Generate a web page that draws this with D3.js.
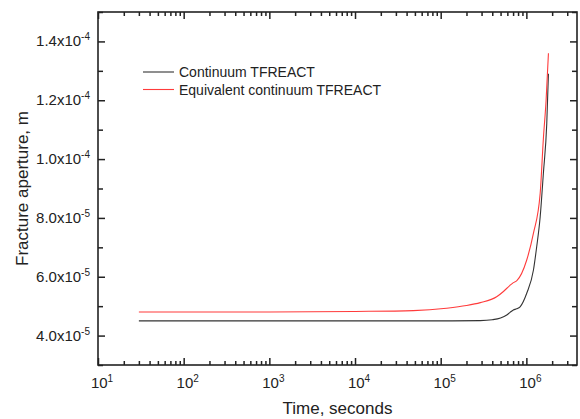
<!DOCTYPE html>
<html>
<head>
<meta charset="utf-8">
<script src="https://cdn.jsdelivr.net/npm/d3@7"></script>
<style>
  body { margin: 0; background: #fff; }
  svg { font-family: "Liberation Sans", Arial, sans-serif; }
</style>
</head>
<body>
<div id="chart"></div>
<script>
// Data
const timeContinuum = [30, 100, 1000, 10000, 100000, 290000, 400000, 500000, 590000, 645000, 705000, 770000, 845000, 1010000, 1210000, 1320000, 1450000, 1580000, 1730000, 1810000];
const apertureContinuum = [4.5e-5, 4.5e-5, 4.5e-5, 4.5e-5, 4.5e-5, 4.51e-5, 4.54e-5, 4.6e-5, 4.70e-5, 4.79e-5, 4.87e-5, 4.91e-5, 4.98e-5, 5.44e-5, 6.23e-5, 7.02e-5, 8.04e-5, 9.52e-5, 1.12e-4, 1.29e-4];

const timeEquivalent = [30, 1000, 10000, 48000, 117000, 200000, 290000, 450000, 540000, 640000, 705000, 770000, 1010000, 1210000, 1450000, 1580000, 1700000, 1810000];
const apertureEquivalent = [4.8e-5, 4.8e-5, 4.82e-5, 4.85e-5, 4.93e-5, 5.02e-5, 5.12e-5, 5.32e-5, 5.5e-5, 5.70e-5, 5.80e-5, 5.86e-5, 6.57e-5, 7.48e-5, 8.84e-5, 1.07e-4, 1.2e-4, 1.36e-4];

const xTicks = [1e1, 1e2, 1e3, 1e4, 1e5, 1e6];
const yTicks = [4e-5, 6e-5, 8e-5, 1e-4, 1.2e-4, 1.4e-4];
const yTickLabels = [["4.0x10", "-5"], ["6.0x10", "-5"], ["8.0x10", "-5"], ["1.0x10", "-4"], ["1.2x10", "-4"], ["1.4x10", "-4"]];

const seriesNames = ["Continuum TFREACT", "Equivalent continuum TFREACT"];
const seriesColors = ["#333333", "#ff3b3b"];

const width = 580;
const height = 419;
const margin = {top: 12, right: 3, bottom: 54, left: 98};
const innerW = width - margin.left - margin.right;
const innerH = height - margin.top - margin.bottom;

const svg = d3.select("#chart")
    .append("svg")
    .attr("width", width)
    .attr("height", height);

const g = svg.append("g")
    .attr("transform", `translate(${margin.left},${margin.top})`);

const x = d3.scaleLog()
    .domain([10, 3.9e6])
    .range([0, innerW]);

const y = d3.scaleLinear()
    .domain([3e-5, 1.5e-4])
    .range([innerH, 0]);

// minor ticks on the log axis
const xMinor = [];
for (let e = 1; e <= 6; e++) {
    for (let m = 2; m <= 9; m++) {
        const v = m * Math.pow(10, e);
        if (v <= x.domain()[1]) xMinor.push(v);
    }
}
const yMinor = [3e-5, 5e-5, 7e-5, 9e-5, 1.1e-4, 1.3e-4, 1.5e-4];

const axisColor = "#222";

function styleAxis(sel) {
    sel.select(".domain").remove();
    sel.selectAll("line").attr("stroke", axisColor).attr("stroke-width", 1.5);
}

// bottom / top
g.append("g").attr("transform", `translate(0,${innerH})`)
    .call(d3.axisBottom(x).tickValues(xMinor).tickSize(-4).tickFormat(""))
    .call(styleAxis);
g.append("g").attr("transform", `translate(0,${innerH})`)
    .call(d3.axisBottom(x).tickValues(xTicks).tickSize(-7).tickFormat(""))
    .call(styleAxis);
g.append("g")
    .call(d3.axisTop(x).tickValues(xMinor).tickSize(-4).tickFormat(""))
    .call(styleAxis);
g.append("g")
    .call(d3.axisTop(x).tickValues(xTicks).tickSize(-7).tickFormat(""))
    .call(styleAxis);

// left / right
g.append("g")
    .call(d3.axisLeft(y).tickValues(yMinor).tickSize(-5).tickFormat(""))
    .call(styleAxis);
g.append("g")
    .call(d3.axisLeft(y).tickValues(yTicks).tickSize(-7).tickFormat(""))
    .call(styleAxis);
g.append("g").attr("transform", `translate(${innerW},0)`)
    .call(d3.axisRight(y).tickValues(yMinor).tickSize(-5).tickFormat(""))
    .call(styleAxis);
g.append("g").attr("transform", `translate(${innerW},0)`)
    .call(d3.axisRight(y).tickValues(yTicks).tickSize(-7).tickFormat(""))
    .call(styleAxis);

// frame
g.append("rect")
    .attr("width", innerW)
    .attr("height", innerH)
    .attr("fill", "none")
    .attr("stroke", axisColor)
    .attr("stroke-width", 1.6);

// x tick labels: 10^n
xTicks.forEach(v => {
    const t = g.append("text")
        .attr("x", x(v) + 4)
        .attr("y", innerH + 23)
        .attr("text-anchor", "middle")
        .attr("font-size", 15)
        .attr("fill", "#222");
    t.append("tspan").text("10");
    t.append("tspan")
        .attr("dy", -6)
        .attr("font-size", 10)
        .text(Math.round(Math.log10(v)));
});

// y tick labels: a.bx10^-n
yTicks.forEach((v, i) => {
    const t = g.append("text")
        .attr("x", -8)
        .attr("y", y(v) + 5)
        .attr("text-anchor", "end")
        .attr("font-size", 15)
        .attr("fill", "#222");
    t.append("tspan").text(yTickLabels[i][0]);
    t.append("tspan")
        .attr("dy", -6)
        .attr("font-size", 10)
        .text(yTickLabels[i][1]);
});

// axis titles
svg.append("text")
    .attr("x", margin.left + innerW / 2)
    .attr("y", 414)
    .attr("text-anchor", "middle")
    .attr("font-size", 17)
    .attr("fill", "#222")
    .text("Time, seconds");

svg.append("text")
    .attr("transform", `translate(28,${margin.top + innerH / 2}) rotate(-90)`)
    .attr("text-anchor", "middle")
    .attr("font-size", 17)
    .attr("fill", "#222")
    .text("Fracture aperture, m");

// lines
const line = d3.line()
    .x(d => x(d[0]))
    .y(d => y(d[1]))
    .curve(d3.curveMonotoneX);

const series = [
    d3.zip(timeContinuum, apertureContinuum),
    d3.zip(timeEquivalent, apertureEquivalent)
];

series.forEach((s, i) => {
    g.append("path")
        .datum(s)
        .attr("fill", "none")
        .attr("stroke", seriesColors[i])
        .attr("stroke-width", 1.1)
        .attr("d", line);
});

// legend
const legend = svg.append("g").attr("transform", "translate(143,72)");
seriesNames.forEach((name, i) => {
    legend.append("line")
        .attr("x1", 0).attr("x2", 31)
        .attr("y1", i * 17.5).attr("y2", i * 17.5)
        .attr("stroke", seriesColors[i])
        .attr("stroke-width", 1.1);
    legend.append("text")
        .attr("x", 36)
        .attr("y", i * 17.5 + 5)
        .attr("font-size", 14)
        .attr("fill", "#222")
        .text(name);
});
</script>
</body>
</html>
